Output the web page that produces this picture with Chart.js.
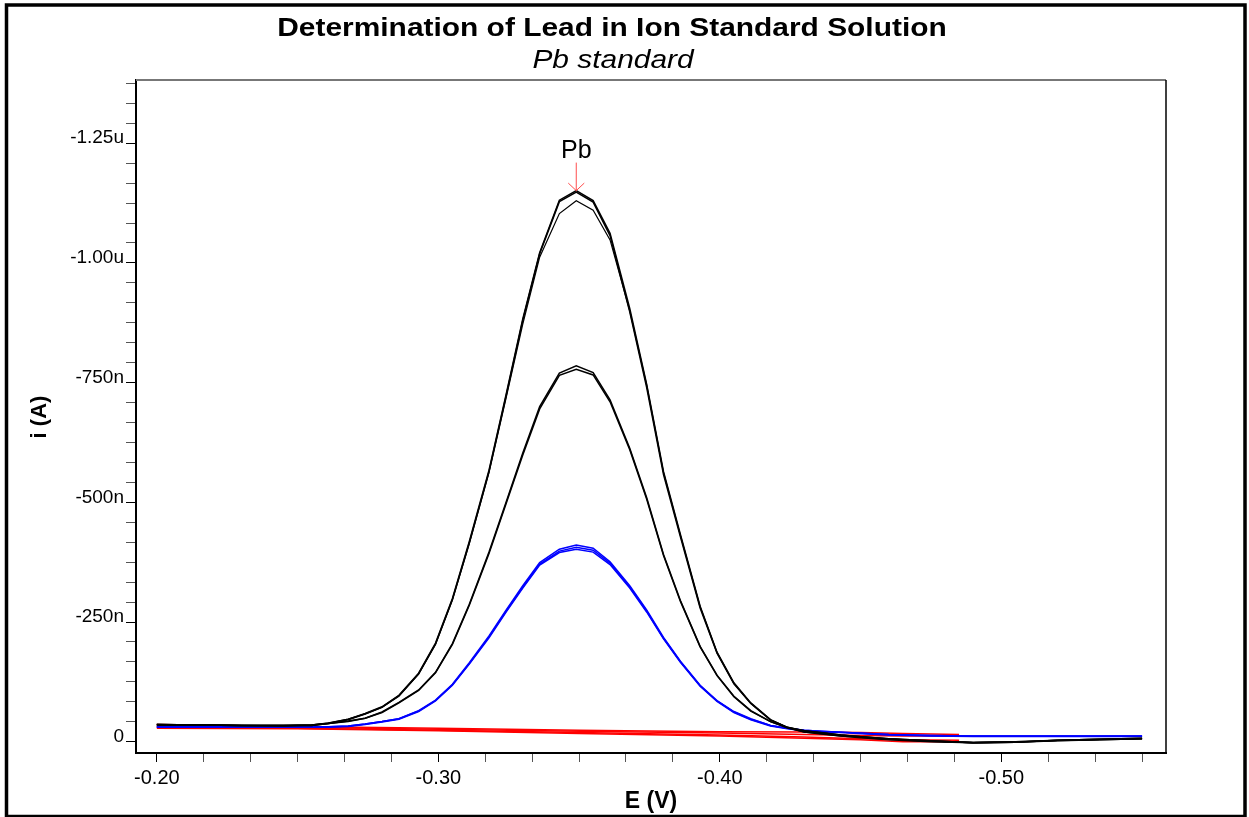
<!DOCTYPE html>
<html>
<head>
<meta charset="utf-8">
<title>Determination of Lead in Ion Standard Solution</title>
<script src="https://cdn.jsdelivr.net/npm/chart.js@4/dist/chart.umd.min.js"></script>
<style>
  html, body { margin: 0; padding: 0; background: #fff; }
  #wrap { width: 1249px; height: 817px; }
</style>
</head>
<body>
<div id="wrap"><canvas id="chart" width="1249" height="817"></canvas></div>
<script>
// potential (V) sampling of the peak scans
const xPeak = [-0.200, -0.215, -0.230, -0.245, -0.255, -0.261, -0.268, -0.274, -0.280, -0.286,
  -0.293, -0.299, -0.305, -0.311, -0.318, -0.324, -0.330, -0.336, -0.343, -0.349,
  -0.355, -0.361, -0.368, -0.374, -0.380, -0.386, -0.393, -0.399, -0.405, -0.411,
  -0.418, -0.424, -0.430, -0.436, -0.443, -0.449, -0.460, -0.475, -0.490, -0.505,
  -0.520, -0.535, -0.550];

// currents in nA (cathodic = negative)
const pbHigh1 = [-36, -35, -34, -34, -35, -39, -47, -59, -73, -97, -143, -206, -299, -418, -567, -723, -883, -1021, -1131, -1151,
  -1130, -1062, -905, -747, -564, -433, -283, -187, -123, -81, -46, -30, -23, -19, -14, -11, -6, -2, 2, 1, -3, -5, -7];
const pbHigh2 = [-35, -35, -34, -33, -35, -38, -46, -58, -72, -96, -142, -204, -297, -415, -564, -720, -880, -1019, -1128, -1148,
  -1127, -1057, -898, -740, -558, -428, -279, -185, -121, -80, -45, -30, -22, -18, -14, -11, -6, -2, 2, 1, -3, -5, -7];
const pbHigh3 = [-36, -35, -34, -34, -35, -39, -47, -58, -72, -95, -141, -203, -296, -414, -562, -716, -872, -1012, -1103, -1130,
  -1110, -1048, -900, -745, -562, -431, -282, -186, -122, -80, -46, -30, -23, -19, -14, -11, -6, -1, 1, 0, -2, -4, -6];
const pbMid1 = [-36, -35, -34, -34, -34, -38, -43, -49, -62, -82, -108, -145, -205, -287, -396, -499, -603, -700, -770, -785,
  -771, -714, -613, -510, -391, -295, -199, -139, -95, -65, -42, -29, -20, -17, -12, -10, -5, -1, 2, 0, -3, -5, -6];
const pbMid2 = [-35, -35, -34, -34, -34, -38, -42, -49, -61, -81, -107, -144, -203, -285, -393, -496, -599, -695, -765, -778,
  -766, -710, -610, -507, -389, -293, -198, -138, -94, -64, -42, -29, -20, -16, -12, -9, -4, 0, 2, 1, -2, -4, -6];
const pbLow1 = [-31, -31, -31, -31, -31, -31, -33, -37, -42, -48, -65, -87, -120, -165, -221, -274, -326, -374, -402, -411,
  -404, -376, -326, -275, -218, -168, -118, -86, -63, -48, -34, -28, -24, -22, -20, -18, -15, -13, -12, -12, -12, -12, -12];
const pbLow2 = [-31, -31, -31, -31, -31, -31, -33, -37, -42, -48, -64, -86, -119, -163, -219, -272, -323, -371, -398, -406,
  -400, -373, -323, -273, -216, -167, -117, -85, -62, -47, -34, -28, -24, -22, -20, -18, -15, -13, -12, -12, -12, -12, -12];
const pbLow3 = [-30, -30, -30, -30, -30, -30, -32, -36, -41, -47, -63, -85, -118, -162, -217, -270, -321, -369, -395, -402,
  -396, -370, -321, -271, -215, -166, -116, -84, -61, -46, -33, -27, -23, -21, -19, -17, -14, -12, -11, -11, -11, -11, -11];

// blank scans
const xBlank = [-0.200, -0.250, -0.300, -0.350, -0.400, -0.430, -0.450, -0.465, -0.485];
const blank1 = [-36, -32, -28, -24, -21, -20, -19, -17, -15];
const blank2 = [-33, -30, -26, -22, -18, -15, -13, -12, -12];
const blank3 = [-30, -28, -24, -19, -14, -10, -6, -4, -3];
const blank4 = [-28, -27, -23, -17, -12, -7, -4, 0, 0];

const xTickLabels = ['-0.20', '-0.30', '-0.40', '-0.50'];
const yTickLabels = ['0', '-250n', '-500n', '-750n', '-1.00u', '-1.25u'];

const pbMark = { x: -0.349, y: -1151, label: 'Pb' };

const FONT = '"Liberation Sans", Arial, sans-serif';

function pts(xs, ys){ return xs.map((x, i) => ({ x, y: ys[i] })); }

function line(xs, ys, color, width){
  return { data: pts(xs, ys), borderColor: color, borderWidth: width || 1.5,
    pointRadius: 0, fill: false, tension: 0 };
}

const datasets = [
  line(xPeak, pbHigh1, '#000'),
  line(xPeak, pbHigh2, '#000'),
  line(xPeak, pbHigh3, '#000', 1.2),
  line(xPeak, pbMid1, '#000'),
  line(xPeak, pbMid2, '#000'),
  line(xPeak, pbLow1, '#0000ff'),
  line(xPeak, pbLow2, '#0000ff'),
  line(xPeak, pbLow3, '#0000ff'),
  line(xBlank, blank1, '#ff0000'),
  line(xBlank, blank2, '#ff0000'),
  line(xBlank, blank3, '#ff0000'),
  line(xBlank, blank4, '#ff0000')
];

// six minor intervals between labelled ticks
const xTicks = [];
for(let i = 0; i <= 21; i++) xTicks.push(-0.2 - i / 60);
const yTicks = [];
for(let i = 0; i <= 33; i++) yTicks.push(-i * 250 / 6);

const tickColor = c => (c.index % 6 === 0 ? '#000' : '#555');

// text drawn a bit wider than the font, like the original export
function wideText(ctx, text, x, y, font, stretch){
  ctx.save();
  ctx.font = font;
  ctx.translate(x, y);
  ctx.scale(stretch, 1);
  ctx.fillText(text, 0, 0);
  ctx.restore();
}

const decor = {
  id: 'decor',
  beforeDraw(chart){
    const ctx = chart.ctx;
    ctx.save();
    ctx.fillStyle = '#fff';
    ctx.fillRect(0, 0, chart.width, chart.height);
    ctx.restore();
  },
  afterDraw(chart){
    const ctx = chart.ctx;
    const a = chart.chartArea;
    const sx = chart.scales.x, sy = chart.scales.y;
    ctx.save();

    // top / right edges of the plot box
    ctx.strokeStyle = '#777';
    ctx.lineWidth = 2;
    ctx.beginPath(); ctx.moveTo(a.left, a.top); ctx.lineTo(a.right, a.top); ctx.stroke();
    ctx.strokeStyle = '#000';
    ctx.lineWidth = 1.5;
    ctx.beginPath(); ctx.moveTo(a.right, a.top); ctx.lineTo(a.right, a.bottom); ctx.stroke();

    // outer frame
    ctx.lineWidth = 3.5;
    ctx.strokeRect(6.5, 5, 1238.5, 811.5);

    ctx.fillStyle = '#000';
    ctx.textAlign = 'center';
    ctx.textBaseline = 'alphabetic';
    wideText(ctx, 'Determination of Lead in Ion Standard Solution', 612, 36, 'bold 26px ' + FONT, 1.15);
    wideText(ctx, 'Pb standard', 613, 68, 'italic 26px ' + FONT, 1.15);

    ctx.font = 'bold 23px ' + FONT;
    ctx.fillText('E (V)', (a.left + a.right) / 2, 808);

    ctx.save();
    ctx.translate(40, 417);
    ctx.rotate(-Math.PI / 2);
    ctx.textBaseline = 'middle';
    ctx.font = 'bold 22px ' + FONT;
    ctx.fillText('i (A)', 0, 0);
    ctx.restore();

    // peak marker
    const px = sx.getPixelForValue(pbMark.x);
    const py = sy.getPixelForValue(pbMark.y);
    ctx.strokeStyle = '#ff4d4d';
    ctx.lineWidth = 1;
    ctx.beginPath();
    ctx.moveTo(px, py - 28); ctx.lineTo(px, py);
    ctx.moveTo(px - 8, py - 7.5); ctx.lineTo(px, py); ctx.lineTo(px + 8, py - 7.5);
    ctx.stroke();
    ctx.fillStyle = '#000';
    ctx.font = '25px ' + FONT;
    ctx.fillText(pbMark.label, px, py - 33);

    ctx.restore();
  }
};

new Chart(document.getElementById('chart'), {
  type: 'line',
  data: { datasets },
  plugins: [decor],
  options: {
    responsive: false,
    animation: false,
    devicePixelRatio: 1,
    layout: { padding: { left: 0, right: 83, top: 80, bottom: 0 } },
    plugins: { legend: { display: false }, tooltip: { enabled: false }, title: { display: false } },
    scales: {
      x: {
        type: 'linear',
        reverse: true,
        min: -0.5585,
        max: -0.1926,
        afterBuildTicks: axis => { axis.ticks = xTicks.map(v => ({ value: v })); },
        afterFit: s => { s.height = 64; s.paddingLeft = 0; s.paddingRight = 0; },
        grid: { drawOnChartArea: false, drawTicks: true, tickLength: 9, color: tickColor, lineWidth: 1 },
        border: { display: true, color: '#000', width: 2 },
        ticks: {
          autoSkip: false, maxRotation: 0, minRotation: 0, padding: 4, color: '#000',
          font: { family: FONT, size: 20 },
          callback: (v, i) => (i % 6 === 0 ? xTickLabels[i / 6] : '')
        }
      },
      y: {
        type: 'linear',
        reverse: true,
        min: -1382,
        max: 23.6,
        afterBuildTicks: axis => { axis.ticks = yTicks.map(v => ({ value: v })); },
        afterFit: s => { s.width = 136; s.paddingTop = 0; s.paddingBottom = 0; },
        grid: { drawOnChartArea: false, drawTicks: true, tickLength: 10, color: tickColor, lineWidth: 1 },
        border: { display: true, color: '#000', width: 2 },
        ticks: {
          autoSkip: false, padding: 2, labelOffset: -5, color: '#000',
          font: { family: FONT, size: 19 },
          callback: (v, i) => (i % 6 === 0 ? yTickLabels[i / 6] : '')
        }
      }
    }
  }
});
</script>
</body>
</html>
